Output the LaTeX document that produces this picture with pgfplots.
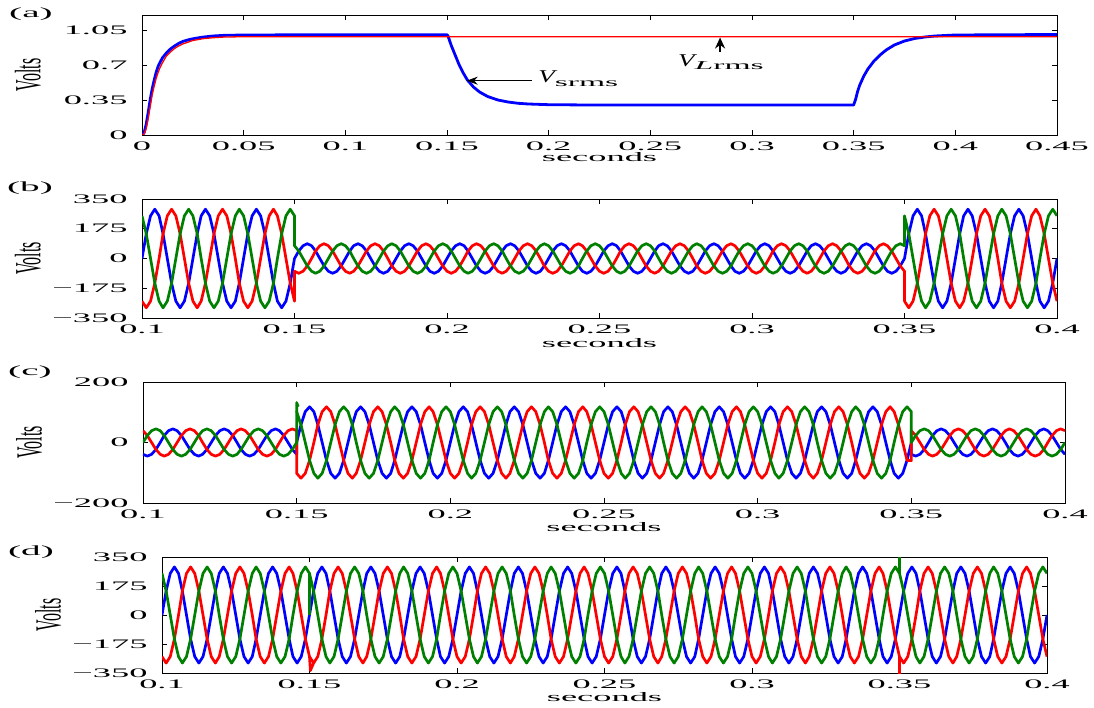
\documentclass[border=0pt]{standalone}
\usepackage{fontspec}
\setmainfont{Liberation Serif}[FakeStretch=2.8]
\newfontfamily\plainfont{Liberation Serif}
\usepackage{graphicx}
\usepackage{pgfplots}
\pgfplotsset{compat=1.18}
\usepackage{pgfplotstable}
\usetikzlibrary{arrows.meta}
\definecolor{mgreen}{rgb}{0,0.5,0}

\pgfplotstableread{
t bB bR bG cB cR cG dB dR dG
0.1000 0 -251 251 -39 39 0 0 -251 251
0.1014 145 -290 145 -45 23 23 145 -290 145
0.1028 251 -251 0 -39 0 39 251 -251 0
0.1042 290 -145 -145 -23 -23 45 290 -145 -145
0.1056 251 0 -251 0 -39 39 251 0 -251
0.1069 145 145 -290 23 -45 23 145 145 -290
0.1083 0 251 -251 39 -39 0 0 251 -251
0.1097 -145 290 -145 45 -23 -23 -145 290 -145
0.1111 -251 251 0 39 0 -39 -251 251 0
0.1125 -290 145 145 23 23 -45 -290 145 145
0.1139 -251 0 251 0 39 -39 -251 0 251
0.1153 -145 -145 290 -23 45 -23 -145 -145 290
0.1167 0 -251 251 -39 39 0 0 -251 251
0.1181 145 -290 145 -45 23 23 145 -290 145
0.1194 251 -251 0 -39 0 39 251 -251 0
0.1208 290 -145 -145 -23 -23 45 290 -145 -145
0.1222 251 0 -251 0 -39 39 251 0 -251
0.1236 145 145 -290 23 -45 23 145 145 -290
0.1250 0 251 -251 39 -39 0 0 251 -251
0.1264 -145 290 -145 45 -23 -23 -145 290 -145
0.1278 -251 251 0 39 0 -39 -251 251 0
0.1292 -290 145 145 23 23 -45 -290 145 145
0.1306 -251 0 251 0 39 -39 -251 0 251
0.1319 -145 -145 290 -23 45 -23 -145 -145 290
0.1333 0 -251 251 -39 39 0 0 -251 251
0.1347 145 -290 145 -45 23 23 145 -290 145
0.1361 251 -251 0 -39 0 39 251 -251 0
0.1375 290 -145 -145 -23 -23 45 290 -145 -145
0.1389 251 0 -251 0 -39 39 251 0 -251
0.1403 145 145 -290 23 -45 23 145 145 -290
0.1417 0 251 -251 39 -39 0 0 251 -251
0.1431 -145 290 -145 45 -23 -23 -145 290 -145
0.1444 -251 251 0 39 0 -39 -251 251 0
0.1458 -290 145 145 23 23 -45 -290 145 145
0.1472 -251 0 251 0 39 -39 -251 0 251
0.1486 -145 -145 290 -23 45 -23 -145 -145 290
0.1500 0 -251 251 -39 39 0 0 -251 251
0.1500 0 -75 75 0 -102 102 0 -251 251
0.1514 44 -87 44 59 -118 59 145 -290 145
0.1528 75 -75 0 102 -102 0 251 -251 0
0.1542 87 -44 -44 118 -59 -59 290 -145 -145
0.1556 75 0 -75 102 0 -102 251 0 -251
0.1569 44 44 -87 59 59 -118 145 145 -290
0.1583 0 75 -75 0 102 -102 0 251 -251
0.1597 -44 87 -44 -59 118 -59 -145 290 -145
0.1611 -75 75 0 -102 102 0 -251 251 0
0.1625 -87 44 44 -118 59 59 -290 145 145
0.1639 -75 0 75 -102 0 102 -251 0 251
0.1653 -44 -44 87 -59 -59 118 -145 -145 290
0.1667 0 -75 75 0 -102 102 0 -251 251
0.1681 44 -87 44 59 -118 59 145 -290 145
0.1694 75 -75 0 102 -102 0 251 -251 0
0.1708 87 -44 -44 118 -59 -59 290 -145 -145
0.1722 75 0 -75 102 0 -102 251 0 -251
0.1736 44 44 -87 59 59 -118 145 145 -290
0.1750 0 75 -75 0 102 -102 0 251 -251
0.1764 -44 87 -44 -59 118 -59 -145 290 -145
0.1778 -75 75 0 -102 102 0 -251 251 0
0.1792 -87 44 44 -118 59 59 -290 145 145
0.1806 -75 0 75 -102 0 102 -251 0 251
0.1819 -44 -44 87 -59 -59 118 -145 -145 290
0.1833 0 -75 75 0 -102 102 0 -251 251
0.1847 44 -87 44 59 -118 59 145 -290 145
0.1861 75 -75 0 102 -102 0 251 -251 0
0.1875 87 -44 -44 118 -59 -59 290 -145 -145
0.1889 75 0 -75 102 0 -102 251 0 -251
0.1903 44 44 -87 59 59 -118 145 145 -290
0.1917 0 75 -75 0 102 -102 0 251 -251
0.1931 -44 87 -44 -59 118 -59 -145 290 -145
0.1944 -75 75 0 -102 102 0 -251 251 0
0.1958 -87 44 44 -118 59 59 -290 145 145
0.1972 -75 0 75 -102 0 102 -251 0 251
0.1986 -44 -44 87 -59 -59 118 -145 -145 290
0.2000 0 -75 75 0 -102 102 0 -251 251
0.2014 44 -87 44 59 -118 59 145 -290 145
0.2028 75 -75 0 102 -102 0 251 -251 0
0.2042 87 -44 -44 118 -59 -59 290 -145 -145
0.2056 75 0 -75 102 0 -102 251 0 -251
0.2069 44 44 -87 59 59 -118 145 145 -290
0.2083 0 75 -75 0 102 -102 0 251 -251
0.2097 -44 87 -44 -59 118 -59 -145 290 -145
0.2111 -75 75 0 -102 102 0 -251 251 0
0.2125 -87 44 44 -118 59 59 -290 145 145
0.2139 -75 0 75 -102 0 102 -251 0 251
0.2153 -44 -44 87 -59 -59 118 -145 -145 290
0.2167 0 -75 75 0 -102 102 0 -251 251
0.2181 44 -87 44 59 -118 59 145 -290 145
0.2194 75 -75 0 102 -102 0 251 -251 0
0.2208 87 -44 -44 118 -59 -59 290 -145 -145
0.2222 75 0 -75 102 0 -102 251 0 -251
0.2236 44 44 -87 59 59 -118 145 145 -290
0.2250 0 75 -75 0 102 -102 0 251 -251
0.2264 -44 87 -44 -59 118 -59 -145 290 -145
0.2278 -75 75 0 -102 102 0 -251 251 0
0.2292 -87 44 44 -118 59 59 -290 145 145
0.2306 -75 0 75 -102 0 102 -251 0 251
0.2319 -44 -44 87 -59 -59 118 -145 -145 290
0.2333 0 -75 75 0 -102 102 0 -251 251
0.2347 44 -87 44 59 -118 59 145 -290 145
0.2361 75 -75 0 102 -102 0 251 -251 0
0.2375 87 -44 -44 118 -59 -59 290 -145 -145
0.2389 75 0 -75 102 0 -102 251 0 -251
0.2403 44 44 -87 59 59 -118 145 145 -290
0.2417 0 75 -75 0 102 -102 0 251 -251
0.2431 -44 87 -44 -59 118 -59 -145 290 -145
0.2444 -75 75 0 -102 102 0 -251 251 0
0.2458 -87 44 44 -118 59 59 -290 145 145
0.2472 -75 0 75 -102 0 102 -251 0 251
0.2486 -44 -44 87 -59 -59 118 -145 -145 290
0.2500 0 -75 75 0 -102 102 0 -251 251
0.2514 44 -87 44 59 -118 59 145 -290 145
0.2528 75 -75 0 102 -102 0 251 -251 0
0.2542 87 -44 -44 118 -59 -59 290 -145 -145
0.2556 75 0 -75 102 0 -102 251 0 -251
0.2569 44 44 -87 59 59 -118 145 145 -290
0.2583 0 75 -75 0 102 -102 0 251 -251
0.2597 -44 87 -44 -59 118 -59 -145 290 -145
0.2611 -75 75 0 -102 102 0 -251 251 0
0.2625 -87 44 44 -118 59 59 -290 145 145
0.2639 -75 0 75 -102 0 102 -251 0 251
0.2653 -44 -44 87 -59 -59 118 -145 -145 290
0.2667 0 -75 75 0 -102 102 0 -251 251
0.2681 44 -87 44 59 -118 59 145 -290 145
0.2694 75 -75 0 102 -102 0 251 -251 0
0.2708 87 -44 -44 118 -59 -59 290 -145 -145
0.2722 75 0 -75 102 0 -102 251 0 -251
0.2736 44 44 -87 59 59 -118 145 145 -290
0.2750 0 75 -75 0 102 -102 0 251 -251
0.2764 -44 87 -44 -59 118 -59 -145 290 -145
0.2778 -75 75 0 -102 102 0 -251 251 0
0.2792 -87 44 44 -118 59 59 -290 145 145
0.2806 -75 0 75 -102 0 102 -251 0 251
0.2819 -44 -44 87 -59 -59 118 -145 -145 290
0.2833 0 -75 75 0 -102 102 0 -251 251
0.2847 44 -87 44 59 -118 59 145 -290 145
0.2861 75 -75 0 102 -102 0 251 -251 0
0.2875 87 -44 -44 118 -59 -59 290 -145 -145
0.2889 75 0 -75 102 0 -102 251 0 -251
0.2903 44 44 -87 59 59 -118 145 145 -290
0.2917 0 75 -75 0 102 -102 0 251 -251
0.2931 -44 87 -44 -59 118 -59 -145 290 -145
0.2944 -75 75 0 -102 102 0 -251 251 0
0.2958 -87 44 44 -118 59 59 -290 145 145
0.2972 -75 0 75 -102 0 102 -251 0 251
0.2986 -44 -44 87 -59 -59 118 -145 -145 290
0.3000 0 -75 75 0 -102 102 0 -251 251
0.3014 44 -87 44 59 -118 59 145 -290 145
0.3028 75 -75 0 102 -102 0 251 -251 0
0.3042 87 -44 -44 118 -59 -59 290 -145 -145
0.3056 75 0 -75 102 0 -102 251 0 -251
0.3069 44 44 -87 59 59 -118 145 145 -290
0.3083 0 75 -75 0 102 -102 0 251 -251
0.3097 -44 87 -44 -59 118 -59 -145 290 -145
0.3111 -75 75 0 -102 102 0 -251 251 0
0.3125 -87 44 44 -118 59 59 -290 145 145
0.3139 -75 0 75 -102 0 102 -251 0 251
0.3153 -44 -44 87 -59 -59 118 -145 -145 290
0.3167 0 -75 75 0 -102 102 0 -251 251
0.3181 44 -87 44 59 -118 59 145 -290 145
0.3194 75 -75 0 102 -102 0 251 -251 0
0.3208 87 -44 -44 118 -59 -59 290 -145 -145
0.3222 75 0 -75 102 0 -102 251 0 -251
0.3236 44 44 -87 59 59 -118 145 145 -290
0.3250 0 75 -75 0 102 -102 0 251 -251
0.3264 -44 87 -44 -59 118 -59 -145 290 -145
0.3278 -75 75 0 -102 102 0 -251 251 0
0.3292 -87 44 44 -118 59 59 -290 145 145
0.3306 -75 0 75 -102 0 102 -251 0 251
0.3319 -44 -44 87 -59 -59 118 -145 -145 290
0.3333 0 -75 75 0 -102 102 0 -251 251
0.3347 44 -87 44 59 -118 59 145 -290 145
0.3361 75 -75 0 102 -102 0 251 -251 0
0.3375 87 -44 -44 118 -59 -59 290 -145 -145
0.3389 75 0 -75 102 0 -102 251 0 -251
0.3403 44 44 -87 59 59 -118 145 145 -290
0.3417 0 75 -75 0 102 -102 0 251 -251
0.3431 -44 87 -44 -59 118 -59 -145 290 -145
0.3444 -75 75 0 -102 102 0 -251 251 0
0.3458 -87 44 44 -118 59 59 -290 145 145
0.3472 -75 0 75 -102 0 102 -251 0 251
0.3486 -44 -44 87 -59 -59 118 -145 -145 290
0.3500 0 -75 75 0 -60 102 0 -251 251
0.3500 0 -251 251 -39 39 0 0 -251 251
0.3514 145 -290 145 -45 23 23 145 -290 145
0.3528 251 -251 0 -39 0 39 251 -251 0
0.3542 290 -145 -145 -23 -23 45 290 -145 -145
0.3556 251 0 -251 0 -39 39 251 0 -251
0.3569 145 145 -290 23 -45 23 145 145 -290
0.3583 0 251 -251 39 -39 0 0 251 -251
0.3597 -145 290 -145 45 -23 -23 -145 290 -145
0.3611 -251 251 0 39 0 -39 -251 251 0
0.3625 -290 145 145 23 23 -45 -290 145 145
0.3639 -251 0 251 0 39 -39 -251 0 251
0.3653 -145 -145 290 -23 45 -23 -145 -145 290
0.3667 0 -251 251 -39 39 0 0 -251 251
0.3681 145 -290 145 -45 23 23 145 -290 145
0.3694 251 -251 0 -39 0 39 251 -251 0
0.3708 290 -145 -145 -23 -23 45 290 -145 -145
0.3722 251 0 -251 0 -39 39 251 0 -251
0.3736 145 145 -290 23 -45 23 145 145 -290
0.3750 0 251 -251 39 -39 0 0 251 -251
0.3764 -145 290 -145 45 -23 -23 -145 290 -145
0.3778 -251 251 0 39 0 -39 -251 251 0
0.3792 -290 145 145 23 23 -45 -290 145 145
0.3806 -251 0 251 0 39 -39 -251 0 251
0.3819 -145 -145 290 -23 45 -23 -145 -145 290
0.3833 0 -251 251 -39 39 0 0 -251 251
0.3847 145 -290 145 -45 23 23 145 -290 145
0.3861 251 -251 0 -39 0 39 251 -251 0
0.3875 290 -145 -145 -23 -23 45 290 -145 -145
0.3889 251 0 -251 0 -39 39 251 0 -251
0.3903 145 145 -290 23 -45 23 145 145 -290
0.3917 0 251 -251 39 -39 0 0 251 -251
0.3931 -145 290 -145 45 -23 -23 -145 290 -145
0.3944 -251 251 0 39 0 -39 -251 251 0
0.3958 -290 145 145 23 23 -45 -290 145 145
0.3972 -251 0 251 0 39 -39 -251 0 251
0.3986 -145 -145 290 -23 45 -23 -145 -145 290
0.4000 0 -251 251 -39 39 0 0 -251 251
}\wave

\pgfplotsset{
  panel/.style={
    scale only axis, anchor=south west, clip=true,
    axis line style={line width=0.8pt, black},
    tick style={black, line width=0.6pt},
    major tick length=5pt, tick align=inside,
    tick label style={font=\fontsize{13}{13}\selectfont},
    xticklabel style={yshift=-3pt},
    yticklabel style={xshift=-11pt},
    label style={font=\fontsize{13}{13}\selectfont},
    xlabel={seconds},
    ylabel={\scalebox{1}[2.3]{\plainfont\fontsize{16}{16}\selectfont Volts}},
  },
  wave/.style={line width=2.7pt, line join=round},
  wt/.style={xtick={0.1,0.15,0.2,0.25,0.3,0.35,0.4},
    xticklabels={0.1,0.15,0.2,0.25,0.3,0.35,0.4}, xmin=0.1, xmax=0.4},
}

\begin{document}
\begin{tikzpicture}
\path[use as bounding box] (0pt,0pt) rectangle (1094pt,707pt);
\node[font=\fontsize{14}{14}\selectfont] at (31pt,693pt) {(a)};
\node[font=\fontsize{14}{14}\selectfont] at (30pt,519pt) {(b)};
\node[font=\fontsize{14}{14}\selectfont] at (30pt,335pt) {(c)};
\node[font=\fontsize{14}{14}\selectfont] at (31pt,155pt) {(d)};

% (a)
\begin{axis}[panel, at={(142pt,572pt)}, width=915pt, height=120pt,
  xmin=0, xmax=0.45, ymin=0, ymax=1.2,
  xtick={0,0.05,0.1,0.15,0.2,0.25,0.3,0.35,0.4,0.45},
  xticklabels={0,0.05,0.1,0.15,0.2,0.25,0.3,0.35,0.4,0.45},
  ytick={0,0.35,0.7,1.05}, yticklabels={0,0.35,0.7,1.05},
  ylabel style={at={(axis description cs:-0.1246,0.5)}, anchor=center},
  xlabel style={at={(axis description cs:0.5,0)}, anchor=center, yshift=-22pt}]
\addplot[blue, line width=2.8pt, line join=round] coordinates {
(0,0) (0.001,0.02) (0.002,0.1) (0.003,0.22) (0.004,0.35) (0.005,0.46)
(0.006,0.55) (0.007,0.63) (0.008,0.69) (0.009,0.73) (0.010,0.77)
(0.012,0.82) (0.014,0.86) (0.016,0.89) (0.018,0.915) (0.020,0.935)
(0.023,0.953) (0.026,0.966) (0.030,0.979) (0.035,0.99) (0.040,0.996)
(0.050,1.0) (0.100,1.003) (0.150,1.003) (0.1505,0.99) (0.151,0.96)
(0.152,0.9) (0.154,0.8) (0.156,0.7) (0.158,0.62) (0.160,0.55)
(0.163,0.48) (0.166,0.43) (0.170,0.385) (0.175,0.35) (0.180,0.33)
(0.185,0.317) (0.190,0.31) (0.200,0.303) (0.220,0.3) (0.350,0.3)
(0.351,0.36) (0.352,0.44) (0.353,0.5) (0.355,0.59) (0.357,0.66)
(0.360,0.74) (0.363,0.8) (0.366,0.85) (0.370,0.9) (0.375,0.94)
(0.380,0.965) (0.385,0.98) (0.390,0.99) (0.400,1.0) (0.450,1.005)};
\addplot[red, line width=1.3pt, line join=round] coordinates {
(0,0) (0.001,0.01) (0.002,0.06) (0.003,0.16) (0.004,0.28) (0.005,0.40)
(0.006,0.49) (0.007,0.57) (0.008,0.63) (0.009,0.68) (0.010,0.72)
(0.012,0.79) (0.014,0.83) (0.016,0.865) (0.018,0.89) (0.020,0.91)
(0.025,0.945) (0.030,0.963) (0.035,0.973) (0.040,0.979) (0.050,0.983)
(0.150,0.983) (0.250,0.983) (0.350,0.983) (0.450,0.983)};
\node[anchor=base west, inner sep=0pt] at (axis cs:0.1948,0.52)
  {{\plainfont\itshape\fontsize{18}{18}\selectfont\scalebox{1.5}[1]{V}}\raisebox{-4pt}{\fontsize{12}{12}\selectfont srms}};
\draw[-{Stealth[length=11pt,width=8pt]}, line width=0.9pt]
  (axis cs:0.1916,0.543) -- (axis cs:0.1597,0.543);
\node[anchor=base west, inner sep=0pt] at (axis cs:0.2636,0.68)
  {{\plainfont\itshape\fontsize{18}{18}\selectfont\scalebox{1.5}[1]{V}}\raisebox{-3pt}{\fontsize{12}{12}\selectfont\itshape L\upshape rms}};
\draw[-{Stealth[length=11pt,width=10pt]}, line width=2pt]
  (axis cs:0.2843,0.83) -- (axis cs:0.2843,0.975);
\end{axis}

% (b)
\begin{axis}[panel, wt, at={(142pt,389pt)}, width=915pt, height=119pt,
  ymin=-350, ymax=350, ytick={-350,-175,0,175,350},
  yticklabels={−350,−175,0,175,350},
  ylabel style={at={(axis description cs:-0.1246,0.5)}, anchor=center},
  xlabel style={at={(axis description cs:0.5,0)}, anchor=center, yshift=-25pt}]
\addplot[wave, blue] table[x=t, y=bB] {\wave};
\addplot[wave, red] table[x=t, y=bR] {\wave};
\addplot[wave, mgreen] table[x=t, y=bG] {\wave};
\end{axis}

% (c)
\begin{axis}[panel, wt, at={(143pt,204pt)}, width=922pt, height=121pt,
  ymin=-200, ymax=200, ytick={-200,0,200},
  yticklabels={−200,0,200},
  ylabel style={at={(axis description cs:-0.1236,0.5)}, anchor=center},
  xlabel style={at={(axis description cs:0.5,0)}, anchor=center, yshift=-24pt}]
\addplot[wave, blue] table[x=t, y=cB] {\wave};
\addplot[wave, red] table[x=t, y=cR] {\wave};
\addplot[wave, mgreen] table[x=t, y=cG] {\wave};
\addplot[wave, mgreen] coordinates {(0.15,100) (0.15,132) (0.1505,118)};
\end{axis}

% (d)
\begin{axis}[panel, wt, at={(162pt,34pt)}, width=885pt, height=116pt,
  ymin=-350, ymax=350, ytick={-350,-175,0,175,350},
  yticklabels={−350,−175,0,175,350},
  ylabel style={at={(axis description cs:-0.1288,0.5)}, anchor=center},
  xlabel style={at={(axis description cs:0.5,0)}, anchor=center, yshift=-24pt}]
\addplot[wave, blue] table[x=t, y=dB] {\wave};
\addplot[wave, red] table[x=t, y=dR] {\wave};
\addplot[wave, mgreen] table[x=t, y=dG] {\wave};
\addplot[wave, red] coordinates {(0.15,-251) (0.1503,-335) (0.1514,-290)};
\addplot[wave, mgreen] coordinates {(0.15,251) (0.15,0)};
\addplot[wave, mgreen] coordinates {(0.35,251) (0.35,355)};
\addplot[wave, red] coordinates {(0.35,-251) (0.35,-355)};
\end{axis}
\end{tikzpicture}
\end{document}
